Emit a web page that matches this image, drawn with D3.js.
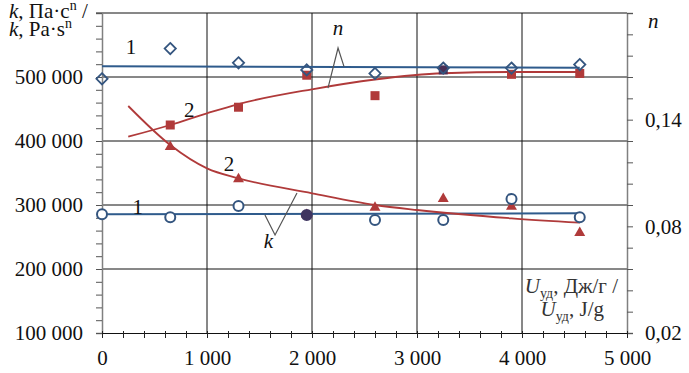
<!DOCTYPE html>
<html>
<head>
<meta charset="utf-8">
<script src="https://cdn.jsdelivr.net/npm/d3@7"></script>
<style>
  body { margin: 0; background: #fff; }
  svg text { font-family: "Liberation Serif", "Times New Roman", Times, "DejaVu Serif", serif; fill: #111; }
</style>
</head>
<body>
<script>
// measured points, U (J/g)
var uX = [0, 650, 1300, 1950, 2600, 3250, 3900, 4550];
// series 1 (blue): n diamonds, k circles
var n1 = [0.163, 0.180, 0.172, 0.168, 0.166, 0.169, 0.169, 0.171];
var k1 = [285500, 281000, 298500, 284500, 276500, 276500, 309500, 281000];
// series 2 (red): n squares, k triangles
var uX2 = [650, 1300, 1950, 2600, 3250, 3900, 4550];
var n2 = [0.137, 0.147, 0.165, 0.1535, 0.168, 0.1655, 0.166];
var k2 = [391000, 340500, 284500, 296000, 309500, 297500, 256500];

// fitted lines
var n1FitX = [0, 4550], n1Fit = [0.1700, 0.1692];
var k1FitX = [0, 4550], k1Fit = [285500, 287000];
var n2FitX = [250, 650, 1000, 1300, 2000, 2600, 3250, 3900, 4550];
var n2Fit = [0.1304, 0.1370, 0.1436, 0.1488, 0.1571, 0.1626, 0.1661, 0.1668, 0.1668];
var k2FitX = [250, 650, 1000, 1300, 2000, 2600, 3000, 3900, 4550];
var k2Fit = [454700, 393750, 357300, 341700, 318300, 300000, 292200, 279200, 272300];

// ticks
var xLabels = [0, 1000, 2000, 3000, 4000, 5000];
var kLabels = [100000, 200000, 300000, 400000, 500000];
var nLabels = [0.02, 0.08, 0.14];

var W = 689, H = 373;
var FONT = '"Liberation Serif", "Times New Roman", Times, "DejaVu Serif", serif';
var svg = d3.select("body").append("svg").attr("width", W).attr("height", H);

var loc = d3.formatLocale({decimal: ",", thousands: " ", grouping: [3], currency: ["", ""]});
var fmtInt = loc.format(",d"), fmtN = loc.format(".2f");

var x = d3.scaleLinear().domain([0, 5000]).range([102, 627]);
var yK = d3.scaleLinear().domain([100000, 600000]).range([333, 13]);
var yN = d3.scaleLinear().domain([0.02, 0.2]).range([333, 13]);

var blue = "#2f5b8c", blueMk = "#34557f", red = "#b03a3a", dark = "#3f3560";

// grid
svg.append("g").selectAll("line").data(kLabels.slice(1)).join("line")
    .attr("x1", x(0)).attr("x2", x(5000))
    .attr("y1", d => yK(d)).attr("y2", d => yK(d))
    .attr("stroke", "#111").attr("stroke-width", 1);
svg.append("g").selectAll("line").data(xLabels.slice(1, -1)).join("line")
    .attr("x1", d => x(d)).attr("x2", d => x(d))
    .attr("y1", yK(600000)).attr("y2", yK(100000))
    .attr("stroke", "#111").attr("stroke-width", 1);
// top border
svg.append("line").attr("x1", x(0) - 6).attr("x2", x(5000))
    .attr("y1", yK(600000)).attr("y2", yK(600000)).attr("stroke", "#111");

// left axis
var gl = svg.append("g").attr("transform", "translate(" + x(0) + ",0)")
    .call(d3.axisLeft(yK).tickValues(d3.range(100000, 600001, 20000)).tickSize(6)
        .tickFormat(d => kLabels.includes(d) ? fmtInt(d) : ""));
gl.attr("font-family", FONT).attr("font-size", 21);
gl.select(".domain").attr("stroke", "#808080").attr("stroke-width", 1.5);
gl.selectAll(".tick line").attr("stroke", "#555");
gl.selectAll(".tick text").attr("x", -19).attr("dy", "0.33em").attr("fill", "#111");

// right axis
var gr = svg.append("g").attr("transform", "translate(" + x(5000) + ",0)")
    .call(d3.axisRight(yN).tickValues(d3.range(0, 16).map(i => 0.02 + i * 0.012)).tickSize(6)
        .tickFormat(d => nLabels.some(v => Math.abs(v - d) < 1e-6) ? fmtN(d) : ""));
gr.attr("font-family", FONT).attr("font-size", 21);
gr.select(".domain").attr("stroke", "#808080").attr("stroke-width", 1.5);
gr.selectAll(".tick line").attr("stroke", "#555");
gr.selectAll(".tick text").attr("x", 18).attr("dy", "0.33em").attr("fill", "#111");

// bottom axis
var gb = svg.append("g").attr("transform", "translate(0," + yK(100000) + ")")
    .call(d3.axisBottom(x).tickValues(d3.range(0, 5001, 200)).tickSize(5)
        .tickFormat(d => xLabels.includes(d) ? fmtInt(d) : ""));
gb.attr("font-family", FONT).attr("font-size", 21);
gb.select(".domain").attr("stroke", "#111");
gb.selectAll(".tick line").attr("stroke", "#222").attr("y1", -2);
gb.selectAll(".tick text").attr("y", 32).attr("dy", null).attr("fill", "#111");

// fitted lines
var zip = (xs, ys) => xs.map((v, i) => [v, ys[i]]);
var lineK = d3.line().x(d => x(d[0])).y(d => yK(d[1])).curve(d3.curveMonotoneX);
var lineN = d3.line().x(d => x(d[0])).y(d => yN(d[1])).curve(d3.curveMonotoneX);
svg.append("path").datum(zip(n1FitX, n1Fit)).attr("d", lineN)
    .attr("fill", "none").attr("stroke", blue).attr("stroke-width", 2);
svg.append("path").datum(zip(k1FitX, k1Fit)).attr("d", lineK)
    .attr("fill", "none").attr("stroke", blue).attr("stroke-width", 2);
svg.append("path").datum(zip(n2FitX, n2Fit)).attr("d", lineN)
    .attr("fill", "none").attr("stroke", red).attr("stroke-width", 1.8);
svg.append("path").datum(zip(k2FitX, k2Fit)).attr("d", lineK)
    .attr("fill", "none").attr("stroke", red).attr("stroke-width", 1.8);

// markers: where two series coincide the overlap looks dark
var near = (a, b, tol) => Math.abs(a - b) < tol;
var hitK = d => k2.some((v, i) => uX2[i] === d[0] && near(v, d[1], 5000));
svg.append("g").selectAll("path").data(zip(uX2, k2)).join("path")
    .attr("d", d3.symbol(d3.symbolTriangle, 52))
    .attr("transform", d => "translate(" + x(d[0]) + "," + yK(d[1]) + ")")
    .attr("fill", red);
svg.append("g").selectAll("rect").data(zip(uX2, n2)).join("rect")
    .attr("x", d => x(d[0]) - 4.5).attr("y", d => yN(d[1]) - 4.5)
    .attr("width", 9).attr("height", 9)
    .attr("fill", d => n1.some((v, i) => uX[i] === d[0] && near(v, d[1], 0.002)) ? "#4b2f55" : red);
svg.append("g").selectAll("circle").data(zip(uX, k1)).join("circle")
    .attr("cx", d => x(d[0])).attr("cy", d => yK(d[1])).attr("r", 5)
    .attr("fill", d => hitK(d) ? dark : "#fff")
    .attr("stroke", d => hitK(d) ? dark : blueMk)
    .attr("stroke-width", 2);
svg.append("g").selectAll("path").data(zip(uX, n1)).join("path")
    .attr("d", d3.symbol(d3.symbolDiamond2, 80))
    .attr("transform", d => "translate(" + x(d[0]) + "," + yN(d[1]) + ")")
    .attr("fill", "none").attr("stroke", blueMk).attr("stroke-width", 1.8);

// leader lines for n and k labels
var lead = svg.append("g").attr("fill", "none").attr("stroke", "#555").attr("stroke-width", 1.2);
lead.append("path").attr("d", d3.line()([[x(2152), yN(0.1578)], [x(2248), yN(0.1803)], [x(2305), yN(0.1698)]]));
lead.append("path").attr("d", d3.line()([[x(1552), yK(284400)], [x(1648), yK(253100)], [x(1857), yK(318750)]]));

// labels
function lbl(px, py, s, italic) {
  svg.append("text").attr("x", px).attr("y", py).attr("text-anchor", "middle")
      .style("font-size", "21px").style("font-style", italic ? "italic" : "normal").text(s);
}
lbl(x(276), yN(0.1809) + 7, "1");
lbl(x(340), yK(299000) + 8, "1");
lbl(x(830), yN(0.146) + 8, "2");
lbl(x(1210), yK(365000) + 8, "2");
lbl(x(2248), yN(0.1904) + 5, "n", true);
lbl(x(1585), yK(244000) + 7, "k", true);

// right axis title
svg.append("text").attr("x", 648).attr("y", 28).style("font-size", "21px")
    .style("font-style", "italic").text("n");

// left axis title
function kTitle(py, unit) {
  var t = svg.append("text").attr("x", 9).attr("y", py).style("font-size", "21px");
  t.append("tspan").style("font-style", "italic").text("k");
  t.append("tspan").text(", " + unit);
  return t;
}
var t1 = kTitle(18, "Па·c");
t1.append("tspan").attr("dy", -8).style("font-size", "14px").text("n");
t1.append("tspan").attr("dy", 8).text(" /");
var t2 = kTitle(36, "Pa·s");
t2.append("tspan").attr("dy", -8).style("font-size", "14px").text("n");

// x axis title
function uTitle(px, py, rest) {
  var t = svg.append("text").attr("x", px).attr("y", py).attr("text-anchor", "end")
      .style("font-size", "21px").style("fill", "#333");
  t.append("tspan").style("font-style", "italic").text("U");
  t.append("tspan").attr("dy", 5).style("font-size", "14px").text("уд");
  t.append("tspan").attr("dy", -5).text(rest);
}
uTitle(618, 293, ", Дж/г /");
uTitle(604, 316, ", J/g");
</script>
</body>
</html>
